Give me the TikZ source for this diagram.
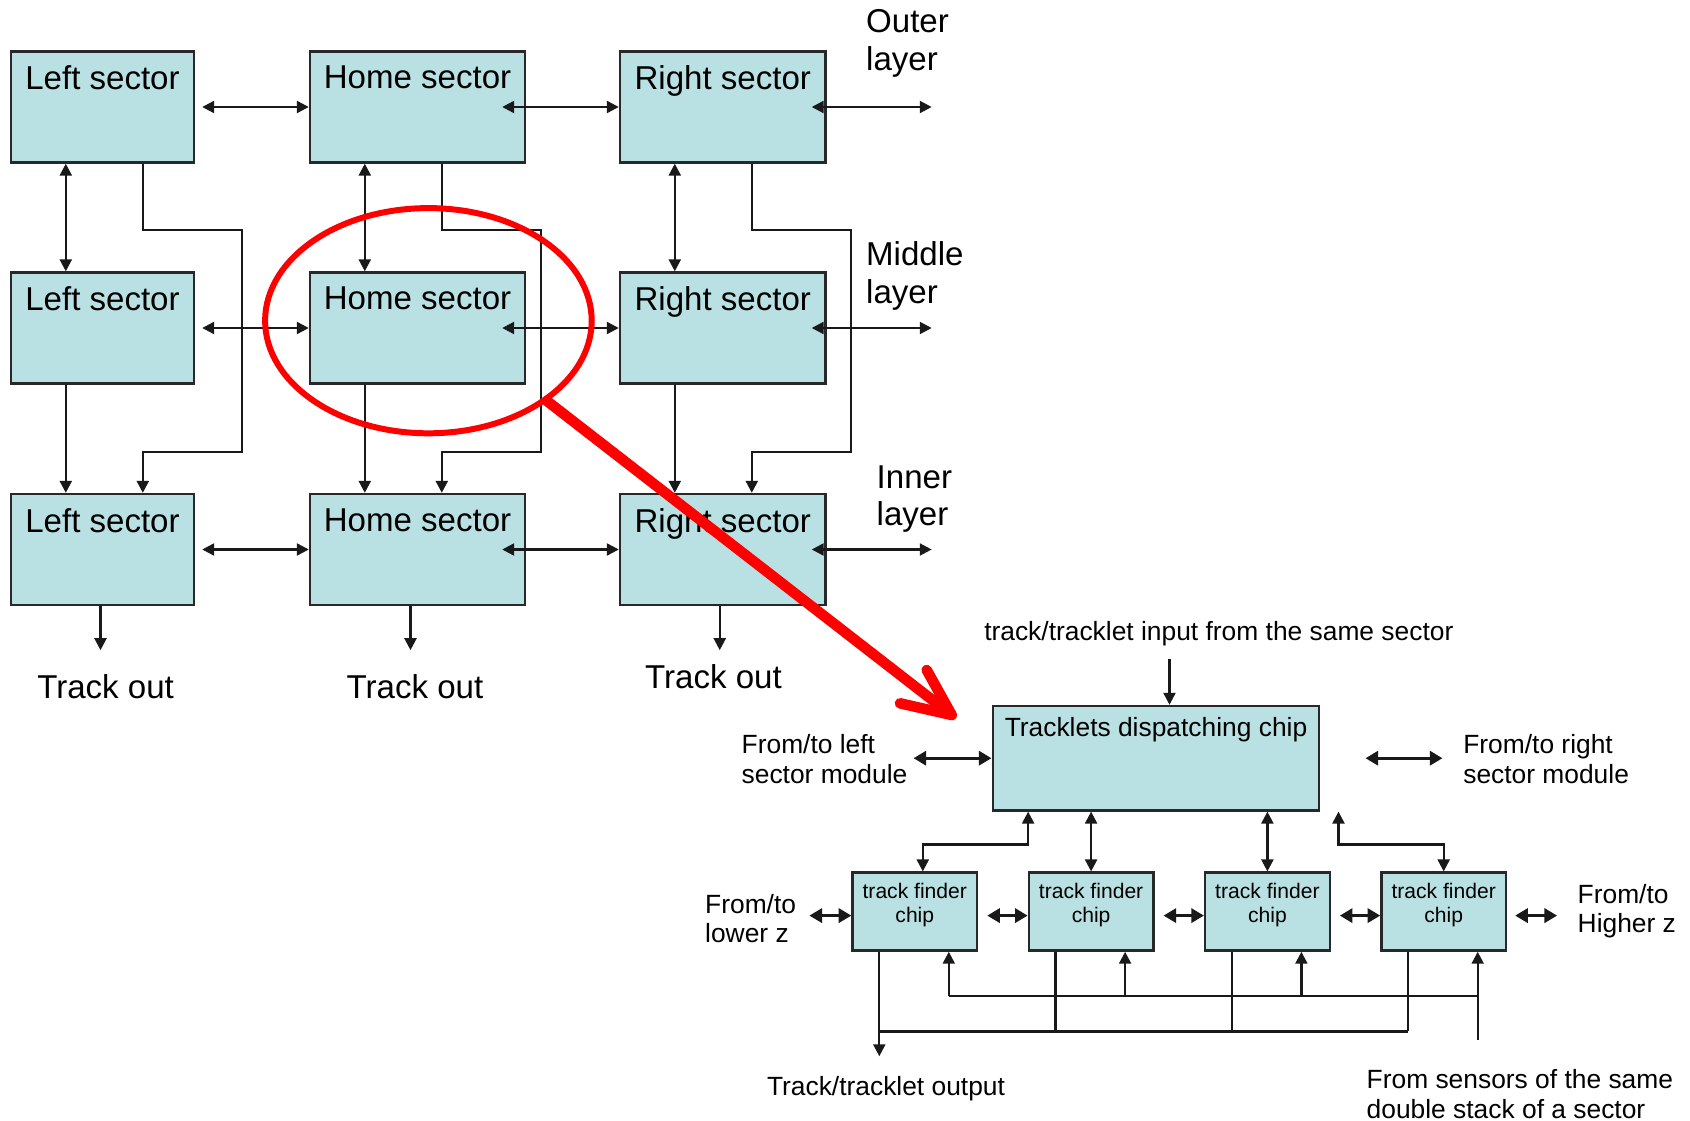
\documentclass[tikz,border=0pt]{standalone}
\usepackage{fontspec}
\setmainfont{Liberation Sans}
\usetikzlibrary{arrows.meta,calc}
\definecolor{cajafondo}{RGB}{185,224,226}
\definecolor{borde}{RGB}{40,40,40}
\newcommand{\grande}{\fontsize{9.4}{10.7}\selectfont}
\newcommand{\chica}{\fontsize{7.5}{8.4}\selectfont}
\newcommand{\mini}{\fontsize{6}{6.9}\selectfont}

\begin{document}
\begin{tikzpicture}[x=0.01cm, y=-0.01cm,
    caja/.style={draw=borde, line width=0.65pt, fill=cajafondo, inner sep=0pt},
    sector/.style={caja, minimum height=1.11cm,
        label={[anchor=north, inner sep=4.2pt, font=\grande]north:#1}},
    chip/.style={caja, minimum width=1.245cm, minimum height=0.78cm,
        label={[anchor=north, inner sep=3.2pt, align=center, font=\mini]north:track finder\\chip}},
    texto/.style={inner sep=0pt, align=left, anchor=west},
    linea/.style={draw=black!90, line width=0.65pt},
    arr/.style={linea, -{Triangle[length=3.4pt,width=3.4pt]}},
    dbl/.style={linea, {Triangle[length=3.4pt,width=3.4pt]}-{Triangle[length=3.4pt,width=3.4pt]}},
    lat/.style={draw=black!90, line width=0.9pt, {Triangle[length=3.6pt,width=4pt]}-{Triangle[length=3.6pt,width=4pt]}}]
    \useasboundingbox (0,0) rectangle (1690,1121);
    % Sectores
    \foreach \r/\y in {o/107, m/328, i/549.5} {
        \node[sector={Left sector}, minimum width=1.83cm] (l\r) at (102.5,\y) {};
        \node[sector={Home sector}, minimum width=2.15cm] (h\r) at (417.5,\y) {};
        \node[sector={Right sector}, minimum width=2.055cm] (r\r) at (722.75,\y) {};
    }
    % Capas
    \node[texto, font=\grande] (capa-o) at (865.5,43.6) {Outer\\layer};
    \node[texto, font=\grande] (capa-m) at (865.5,276) {Middle\\layer};
    \node[texto, font=\grande] (capa-i) at (876,499) {Inner\\layer};
    % Conexiones horizontales
    \foreach \r in {o,m,i} {
        \draw[dbl] ($(l\r.east)+(7,0)$) -- (h\r.west);
        \draw[dbl] ($(h\r.east)+(-24,0)$) -- (r\r.west);
        \draw[dbl] ($(r\r.east)+(-15,0)$) -- ++(120,0);
    }
    % Conexiones verticales
    \foreach \s in {l,h,r} {
        \draw[dbl] ($(\s o.south west)+(56,0)$) -- ($(\s m.north west)+(56,0)$);
        \draw[arr] ($(\s m.south west)+(56,0)$) -- ($(\s i.north west)+(56,0)$);
        \draw[arr] ($(\s o.south west)+(133,0)$) -- ++(0,66) -- ++(99,0) -- ++(0,222)
            -- ++(-99,0) -- ($(\s i.north west)+(133,0)$);
    }
    % Salidas
    \draw[arr] ($(li.south)+(-2,0)$) -- ++(0,44);
    \draw[arr] ($(hi.south)+(-7,0)$) -- ++(0,44);
    \draw[arr] ($(ri.south)+(-3,0)$) -- ++(0,44);
    \node[font=\grande] (sal-l) at (105.6,686.5) {Track out};
    \node[font=\grande] (sal-h) at (415,686.5) {Track out};
    \node[font=\grande] (sal-r) at (713.5,677) {Track out};
    % Modulo del sector
    \node[caja, minimum width=3.265cm, minimum height=1.045cm,
        label={[anchor=north, inner sep=3.4pt, font=\chica]north:Tracklets dispatching chip}] (disp) at (1156,758.2) {};
    \foreach \i in {1,...,4} {
        \node[chip] (c\i) at ({914.8+176.3*(\i-1)},911.6) {};
    }
    \node[font=\chica] (entrada) at (1218.8,634) {track/tracklet input from the same sector};
    \draw[arr] ($(disp.north)+(13.5,-46)$) -- ($(disp.north)+(13.5,0)$);
    \node[texto, font=\chica] (izq) at (741,759) {From/to left\\sector module};
    \node[texto, font=\chica] (der) at (1462.6,759) {From/to right\\sector module};
    \draw[lat] ($(disp.west)+(-78,0)$) -- (disp.west);
    \draw[lat] ($(disp.east)+(45,0)$) -- ++(77,0);
    % Despacho - chips
    \draw[dbl] ($(disp.south west)+(36.6,0)$) |- ($(c1.north)+(8,-27)$) -- ($(c1.north)+(8,0)$);
    \draw[dbl] (disp.south -| c2.north) -- (c2.north);
    \draw[dbl] (disp.south -| c3.north) -- (c3.north);
    \draw[dbl] ($(disp.south east)+(18,0)$) |- ($(c4.north)+(0,-27)$) -- (c4.north);
    % Entre chips
    \node[texto, font=\chica] (menor) at (704.5,918.5) {From/to\\lower z};
    \node[texto, font=\chica] (mayor) at (1577,911) {From/to\\Higher z};
    \draw[lat] ($(c1.west)+(-42,4)$) -- ($(c1.west)+(0,4)$);
    \foreach \i/\j in {1/2,2/3,3/4} {
        \draw[lat] ($(c\i.east)+(9,4)$) -- ($(c\j.west)+(0,4)$);
    }
    \draw[lat] ($(c4.east)+(8,4)$) -- ++(42,0);
    % Entradas y salidas de los chips
    \foreach \i in {1,...,4} {
        \draw[arr] ($(c\i.south)+(34,44.2)$) -- ($(c\i.south)+(34,0)$);
        \draw[linea] ($(c\i.south)+(-35.5,0)$) -- ++(0,79.7);
    }
    \draw[linea] ($(c1.south)+(34,44.2)$) -- ($(c4.south)+(34,44.2)$);
    \draw[linea] ($(c4.south)+(34,44.2)$) -- ++(0,43.8);
    \draw[linea] ($(c1.south)+(-35.5,79.7)$) -- ($(c4.south)+(-35.5,79.7)$);
    \draw[arr] ($(c1.south)+(-35.5,79.7)$) -- ++(0,24.8);
    \node[font=\chica] (salida) at (886,1089) {Track/tracklet output};
    \node[texto, font=\chica] (sensores) at (1366,1094) {From sensors of the same\\double stack of a sector};
    % Resaltado
    \draw[red, line width=1.7pt] (428.4,320.7) ellipse [x radius=163.3, y radius=112.6];
    \draw[red, line width=3pt, line cap=round, line join=round] (547,401) -- (951.7,715);
    \draw[red, line width=3pt, line cap=round, line join=round] (926.7,670) -- (951.7,715) -- (900,703.3);
\end{tikzpicture}
\end{document}
